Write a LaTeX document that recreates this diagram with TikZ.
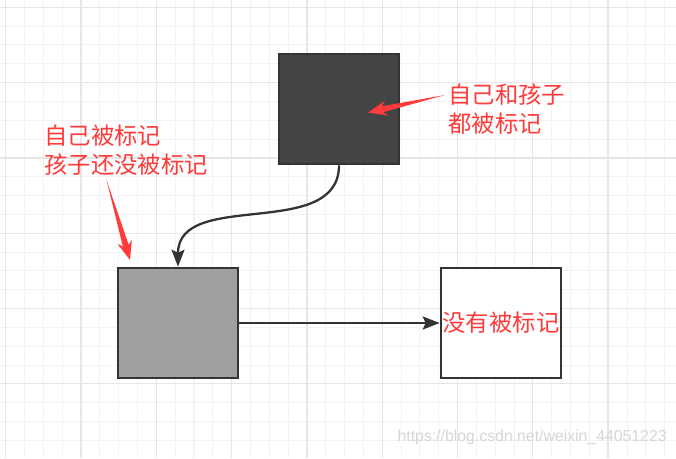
\documentclass[tikz,border=0pt]{standalone}
\usepackage{fontspec}
\usepackage{tikz}
\usetikzlibrary{arrows.meta}
\usetikzlibrary{calc}
\newfontfamily\cjk{Noto Sans CJK SC}
\newfontfamily\wmfont{Liberation Sans}
\definecolor{markred}{RGB}{255, 59, 59}
\definecolor{lineg}{RGB}{51, 51, 51}
\definecolor{darkfill}{RGB}{68, 68, 68}
\definecolor{midfill}{RGB}{160, 160, 160}
\definecolor{gridminor}{RGB}{243, 243, 243}
\definecolor{gridmajor}{RGB}{230, 230, 230}

\tikzset{
  cell/.style={draw=lineg, line width=1.5pt, minimum width=2.4cm, minimum height=2.2cm, inner sep=0pt},
  note/.style={text=markred, font=\cjk\fontsize{13.3pt}{16.5pt}\selectfont, align=left, inner sep=0pt},
  link/.style={draw=lineg, line width=1.3pt, -{Stealth[length=0.34cm, width=0.26cm, inset=0.06cm]}},
}

% red hand-drawn pointer: tail, tip
\newcommand{\markarrow}[2]{%
  \coordinate (neck) at ($(#2)!0.30cm!(#1)$);
  \coordinate (wing) at ($(#2)!0.38cm!(#1)$);
  \fill[markred] (#1) -- ($(neck)!0.06cm!90:(#2)$) -- ($(wing)!0.15cm!90:(#2)$) -- (#2)
    -- ($(wing)!0.15cm!-90:(#2)$) -- ($(neck)!0.06cm!-90:(#2)$) -- cycle;
}

\begin{document}
\begin{tikzpicture}[x=0.02cm, y=-0.02cm]
    \useasboundingbox (0, 0) rectangle (676, 458);
    \fill [white] (0, 0) rectangle (676, 458);

    % grid
    \foreach \i in {0,...,35}
      \draw [gridminor, line width=0.6pt] ({5.7 + 18.83*\i}, 0) -- ++(0, 458);
    \foreach \j in {0,...,23}
      \draw [gridminor, line width=0.6pt] (0, {7.3 + 18.83*\j}) -- ++(676, 0);
    \foreach \i in {0,...,8}
      \draw [gridmajor, line width=0.7pt] ({5.7 + 75.3*\i}, 0) -- ++(0, 458);
    \foreach \j in {0,...,5}
      \draw [gridmajor, line width=0.7pt] (0, {7.3 + 75.3*\j}) -- ++(676, 0);

    % boxes
    \node [cell, fill=darkfill] (marked) at (339, 109) {};
    \node [cell, fill=midfill] (half) at (178, 323) {};
    \node [cell, fill=white, text=markred, font=\cjk\fontsize{13.3pt}{16.5pt}\selectfont] (unmarked) at (501, 323) {没有被标记};

    \draw [link] (marked.south) .. controls +(0, 76) and +(0, -78) .. (half.north);
    \draw [link] (half.east) -- (unmarked.west);

    % notes
    \node [note, anchor=west] (bothnote) at (448, 109.5) {自己和孩子\\都被标记};
    \node [note, anchor=west] (selfnote) at (44, 150) {自己被标记\\孩子还没被标记};

    \coordinate (bothtail) at (445, 95);
    \coordinate (bothtip) at (368, 112.5);
    \coordinate (selftail) at (106.5, 180);
    \coordinate (selftip) at (130, 260);
    \markarrow{bothtail}{bothtip}
    \markarrow{selftail}{selftip}

    \node [text=black!16, font=\wmfont\fontsize{9pt}{11pt}\selectfont, anchor=east, inner sep=0pt] (mark) at (667, 437) {https://blog.csdn.net/weixin\_44051223};
\end{tikzpicture}
\end{document}
